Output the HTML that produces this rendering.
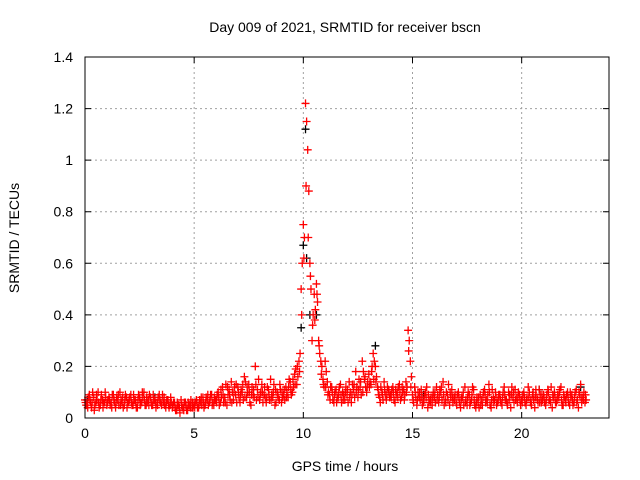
<!DOCTYPE html>
<html><head><meta charset="utf-8"><style>
body{margin:0;background:#fff}
svg{display:block;font-family:"Liberation Sans",sans-serif}
</style></head><body>
<svg id="chart" width="640" height="480">
<rect width="640" height="480" fill="#fff"/>
<text x="345" y="32" font-size="14" text-anchor="middle">Day 009 of 2021, SRMTID for receiver bscn</text>
<text x="345" y="471" font-size="14" text-anchor="middle">GPS time / hours</text>
<text transform="translate(19,238) rotate(-90)" font-size="14" text-anchor="middle">SRMTID / TECUs</text>
<g id="grid"></g>
<g id="ticks"></g>
<g id="pts"></g>
<rect x="85" y="57" width="524" height="361" fill="none" stroke="#000"/>
</svg>
<script>
const xTicks=[0,5,10,15,20];
const yTicks=[0,0.2,0.4,0.6,0.8,1,1.2,1.4];
const yTickLabels=["0","0.2","0.4","0.6","0.8","1","1.2","1.4"];
const startHour=0, stepHour=0.1;
const redA=[.07,.05,.09,.04,.08,.06,.10,.05,.07,.06,
.05,.08,.06,.09,.04,.07,.10,.06,.05,.08,
.06,.09,.05,.07,.04,.08,.06,.10,.05,.07,
.08,.05,.07,.06,.09,.05,.06,.04,.07,.05,
.04,.06,.03,.05,.07,.04,.06,.03,.05,.04,
.05,.07,.04,.06,.08,.05,.07,.06,.09,.05,
.07,.10,.06,.12,.08,.05,.11,.14,.07,.09,
.12,.06,.10,.16,.08,.13,.05,.09,.20,.11,
.07,.13,.09,.06,.11,.15,.08,.05,.10,.07,
.06,.09,.12,.08,.14,.10,.17,.13,.22,.50,
.75,1.22,1.04,.60,.30,.48,.52,.30,.22,.15,
.22,.14,.09,.12,.06,.11,.08,.13,.10,.07,
.09,.14,.06,.11,.18,.08,.12,.22,.15,.10,
.17,.13,.25,.20,.12,.08,.10,.14,.07,.11,
.09,.12,.06,.10,.13,.08,.11,.14,.34,.22,
.09,.12,.05,.08,.11,.06,.10,.04,.07,.05,
.08,.12,.06,.10,.14,.07,.09,.05,.11,.08,
.06,.10,.04,.08,.12,.05,.09,.07,.11,.04,
.06,.09,.05,.11,.07,.13,.04,.08,.10,.06,
.09,.05,.12,.07,.10,.04,.08,.11,.06,.09,
.07,.10,.05,.12,.06,.09,.04,.08,.11,.06,
.09,.05,.11,.07,.04,.10,.06,.08,.12,.05,
.07,.10,.05,.09,.06,.11,.04,.13,.08,.06];
const redB=[.05,.08,.06,.10,.05,.07,.04,.09,.06,.08,
.07,.05,.09,.06,.08,.05,.07,.04,.09,.06,
.08,.05,.07,.04,.09,.06,.08,.05,.06,.09,
.05,.07,.04,.08,.06,.09,.05,.07,.04,.06,
.06,.03,.05,.02,.04,.06,.03,.05,.07,.04,
.06,.04,.07,.05,.04,.08,.05,.09,.06,.07,
.09,.05,.08,.06,.13,.09,.07,.10,.12,.06,
.08,.11,.07,.14,.10,.06,.12,.08,.07,.15,
.10,.06,.08,.12,.07,.09,.13,.06,.08,.11,
.08,.07,.10,.15,.09,.12,.19,.16,.25,.60,
.70,1.15,.88,.50,.40,.42,.45,.25,.20,.12,
.18,.10,.12,.07,.10,.08,.12,.06,.09,.12,
.06,.10,.13,.08,.12,.15,.09,.18,.12,.14,
.14,.20,.22,.16,.09,.12,.07,.09,.12,.08,
.11,.07,.09,.12,.07,.10,.09,.12,.30,.16,
.06,.08,.10,.07,.05,.09,.12,.06,.08,.10,
.06,.09,.11,.07,.05,.10,.13,.08,.06,.09,
.09,.06,.08,.05,.07,.10,.06,.12,.05,.08,
.04,.07,.10,.06,.09,.05,.11,.07,.05,.09,
.06,.10,.07,.05,.09,.12,.06,.08,.10,.05,
.09,.06,.08,.10,.05,.07,.11,.06,.09,.07,
.06,.09,.07,.12,.08,.06,.09,.11,.05,.08,
.09,.06,.08,.05,.10,.07,.09,.06,.10,.07];
const redC=[.06,.04,.07,.06,.03,.09,.06,.07,.04,.10,
.06,.07,.04,.07,.06,.09,.05,.08,.07,.04,
.07,.06,.09,.06,.07,.05,.10,.07,.08,.05,
.06,.09,.06,.05,.07,.06,.08,.06,.05,.08,
.05,.04,.06,.04,.05,.03,.05,.06,.04,.06,
.04,.06,.05,.08,.06,.06,.09,.07,.05,.08,
.06,.08,.11,.09,.06,.12,.09,.06,.10,.13,
.10,.09,.13,.08,.12,.10,.09,.11,.13,.08,
.09,.10,.12,.08,.09,.07,.10,.11,.09,.13,
.10,.11,.08,.12,.11,.15,.13,.20,.18,.40,
.62,.90,.70,.55,.36,.38,.48,.28,.17,.13,
.12,.09,.07,.10,.09,.06,.10,.09,.07,.10,
.11,.08,.09,.13,.10,.11,.14,.10,.16,.12,
.12,.18,.15,.14,.11,.06,.09,.11,.09,.10,
.08,.10,.11,.08,.10,.12,.07,.10,.26,.12,
.07,.10,.07,.10,.08,.07,.08,.09,.06,.08,
.10,.07,.08,.12,.09,.06,.07,.10,.08,.07,
.05,.08,.07,.10,.06,.08,.05,.09,.07,.06,
.08,.05,.08,.09,.06,.10,.07,.06,.08,.07,
.07,.08,.09,.06,.07,.09,.10,.07,.08,.07,
.06,.08,.07,.08,.07,.10,.08,.07,.06,.09,
.08,.07,.10,.06,.09,.08,.07,.10,.07,.09,
.06,.08,.10,.07,.08,.06,.10,.08,.07,.09];
const blackT=[0.1,3.2,9.9,10.0,10.1,10.15,10.3,10.6,13.3,15.5,20.8,22.7];
const blackV=[0.07,0.08,0.35,0.67,1.12,0.62,0.40,0.40,0.28,0.09,0.11,0.12];
const NS="http://www.w3.org/2000/svg";
const X0=85,X1=609,Y0=418,Y1=57;
function xs(h){return X0+(h-0)/24*(X1-X0);}
function ys(v){return Y0-v/1.4*(Y0-Y1);}
function mk(tag,attrs,parent){const e=document.createElementNS(NS,tag);for(const k in attrs)e.setAttribute(k,attrs[k]);parent.appendChild(e);return e;}
const grid=document.getElementById('grid'),ticks=document.getElementById('ticks'),pts=document.getElementById('pts');
xTicks.forEach(t=>{const x=xs(t);
 if(t>0){const g=mk('line',{x1:x,x2:x,y1:Y1,y2:Y0,stroke:'#a0a0a0','stroke-dasharray':'2,3'},grid);
 
 }
 const l=mk('path',{d:`M${x} ${Y0}V${Y0-6}M${x} ${Y1}V${Y1+6}`,stroke:'#000'},ticks);
 
 
 const tx=mk('text',{x:x,y:Y0+20,'font-size':14,'text-anchor':'middle'},ticks);tx.textContent=String(t);
 
 
});
yTicks.forEach((t,i)=>{const y=ys(t);
 if(t>0&&t<1.4){const g=mk('line',{x1:X0,x2:X1,y1:y,y2:y,stroke:'#a0a0a0','stroke-dasharray':'2,3'},grid);
 
 }
 const l=mk('path',{d:`M${X0} ${y}H${X0+6}M${X1} ${y}H${X1-6}`,stroke:'#000'},ticks);
 
 
 const tx=mk('text',{x:X0-12,y:y+5,'font-size':14,'text-anchor':'end'},ticks);tx.textContent=yTickLabels[i];
 
 
});
function plus(h,v,color,name){const x=xs(h),y=ys(v);
 const p=mk('path',{d:`M${x-4} ${y}H${x+4}M${x} ${y-4}V${y+4}`,stroke:color,'stroke-width':1.3,fill:'none'},pts);
 
 }
blackT.forEach((t,i)=>plus(t,blackV[i],'#000','black-point'));
redA.forEach((v,i)=>plus(startHour+i*stepHour,v,'#f00','red-point'));
redB.forEach((v,i)=>plus(startHour+i*stepHour+0.05,v,'#f00','red-point'));
redC.forEach((v,i)=>plus(startHour+i*stepHour+0.025,v,'#f00','red-point'));
</script>
</body></html>
